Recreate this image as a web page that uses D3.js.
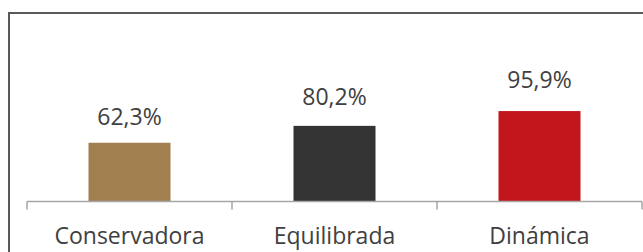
<!DOCTYPE html>
<html>
<head>
<meta charset="utf-8">
<script src="https://cdn.jsdelivr.net/npm/d3@7"></script>
<style>
  html, body { margin: 0; padding: 0; background: #fff; }
  svg { display: block; }
  text { font-family: "Open Sans", "DejaVu Sans", sans-serif; fill: #404040; }
</style>
</head>
<body>
<svg id="chart" width="643" height="252"></svg>
<script>
const categories = ["Conservadora", "Equilibrada", "Dinámica"];
const values = [62.3, 80.2, 95.9];
const valueLabels = ["62,3%", "80,2%", "95,9%"];
const colors = ["#a17f4f", "#333333", "#c3161c"];

const svg = d3.select("#chart");
const W = 643, H = 252;

// outer frame
svg.append("path")
  .attr("d", `M9,${H + 2} L9,13 L${W + 2},13`)
  .attr("fill", "none")
  .attr("stroke", "#5a5a5a")
  .attr("stroke-width", 2);

const x0 = 27, x1 = 642, yBase = 201.5;

const x = d3.scaleBand().domain(categories).range([x0, x1])
  .paddingInner(0.6).paddingOuter(0.3);
const xCat = d3.scaleBand().domain(categories).range([x0, x1]);
const y = d3.scaleLinear().domain([0, 100]).range([yBase, 107.2]);
const yLabel = d3.scaleLinear().domain([0, 100]).range([193, 83.8]);

// bars
svg.selectAll("rect.bar").data(categories).enter().append("rect")
  .attr("class", "bar")
  .attr("x", d => x(d))
  .attr("width", x.bandwidth())
  .attr("y", (d, i) => y(values[i]))
  .attr("height", (d, i) => y(0) - y(values[i]))
  .attr("fill", (d, i) => colors[i]);

// axis line and ticks
const axisColor = "#a6a6a6";
svg.append("line")
  .attr("x1", x0).attr("x2", x1)
  .attr("y1", yBase).attr("y2", yBase)
  .attr("stroke", axisColor).attr("stroke-width", 1.5);
const tickPos = categories.map(c => xCat(c)).concat([x1]);
svg.selectAll("line.tick").data(tickPos).enter().append("line")
  .attr("class", "tick")
  .attr("x1", d => d).attr("x2", d => d)
  .attr("y1", yBase).attr("y2", yBase + 8)
  .attr("stroke", axisColor).attr("stroke-width", 1.5);

// category labels
svg.selectAll("text.cat").data(categories).enter().append("text")
  .attr("class", "cat")
  .attr("x", d => xCat(d) + xCat.bandwidth() / 2)
  .attr("y", 243.5)
  .attr("text-anchor", "middle")
  .attr("font-size", 23)
  .text(d => d);

// value labels
svg.selectAll("text.val").data(categories).enter().append("text")
  .attr("class", "val")
  .attr("x", d => x(d) + x.bandwidth() / 2)
  .attr("y", (d, i) => yLabel(values[i]))
  .attr("text-anchor", "middle")
  .attr("font-size", 23)
  .text((d, i) => valueLabels[i]);
</script>
</body>
</html>
